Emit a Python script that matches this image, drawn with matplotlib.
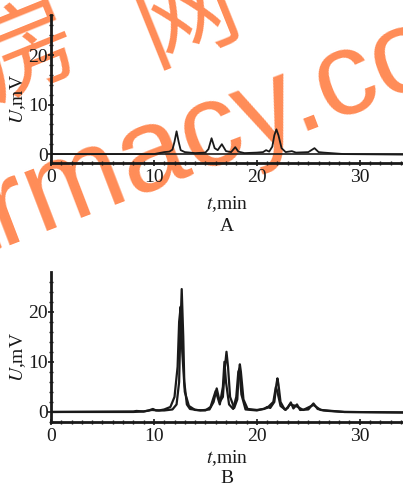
import matplotlib
matplotlib.use("Agg")
import matplotlib.pyplot as plt
from matplotlib.ticker import MultipleLocator, FixedLocator

plt.rcParams['font.family'] = ['Liberation Serif', 'DejaVu Serif']
plt.rcParams['mathtext.fontset'] = 'stix'

# chromatogram A: (t, U)
a_t = [0, 10.0, 10.5, 11.0, 11.5, 11.8, 12.0, 12.2, 12.4, 12.6, 13.0, 14.0, 15.0, 15.3,
       15.6, 15.9, 16.2, 16.6, 17.0, 17.5, 17.9, 18.2, 18.8, 20.0, 20.6, 20.9, 21.2,
       21.5, 21.7, 21.9, 22.1, 22.4, 22.8, 23.4, 23.8, 25.0, 25.6, 26.0, 26.5, 28.5, 34.2]
a_u = [0.0, 0.0, 0.2, 0.4, 0.5, 0.9, 2.5, 4.6, 2.5, 0.8, 0.4, 0.2, 0.3, 1.0,
       3.2, 1.2, 0.8, 2.0, 0.6, 0.4, 1.4, 0.5, 0.2, 0.3, 0.4, 0.8, 0.5,
       1.5, 3.8, 5.0, 3.8, 1.2, 0.4, 0.6, 0.3, 0.4, 1.2, 0.4, 0.3, 0.0, -0.1]

# chromatogram B, trace 1 (sharp)
b1_t = [0, 8.0, 8.3, 9.0, 9.5, 9.9, 10.2, 11.0, 11.8, 12.2, 12.45, 12.55, 12.7, 12.85,
        12.95, 13.2, 13.5, 14.5, 15.4, 15.8, 16.1, 16.4, 16.7, 16.9, 17.05, 17.2, 17.4,
        17.8, 18.1, 18.25, 18.35, 18.45, 18.7, 19.1, 20.0, 20.7, 21.0, 21.3, 21.7, 21.9,
        22.0, 22.1, 22.3, 22.7, 23.0, 23.3, 23.55, 23.9, 24.2, 25.0, 25.5, 25.9, 26.5,
        27.0, 28.5, 34.2]
b1_u = [0.0, 0.1, 0.2, 0.1, 0.3, 0.6, 0.3, 0.3, 0.5, 1.5, 6.0, 15.0, 24.5, 15.0,
        6.0, 1.5, 0.6, 0.3, 0.5, 2.0, 4.7, 2.0, 3.0, 9.0, 12.0, 9.0, 3.0,
        0.8, 2.5, 8.0, 9.5, 8.0, 2.5, 0.6, 0.4, 0.6, 1.0, 0.8, 2.0, 5.5,
        6.7, 5.5, 2.0, 0.5, 0.8, 1.9, 0.7, 1.5, 0.4, 0.5, 1.7, 0.6, 0.3,
        0.2, 0.0, -0.1]

# chromatogram B, trace 2 (broader)
b2_t = [0, 8.0, 9.0, 9.8, 10.5, 11.0, 11.6, 12.0, 12.3, 12.45, 12.6, 12.75, 13.0, 13.4,
        14.0, 15.0, 15.5, 16.0, 16.4, 16.7, 16.85, 17.0, 17.3, 17.7, 18.0, 18.2, 18.3,
        18.5, 18.9, 20.0, 21.0, 21.6, 21.85, 22.0, 22.3, 22.8, 23.2, 23.8, 24.5, 25.5,
        26.2, 28.5, 34.2]
b2_u = [0.0, 0.0, 0.1, 0.4, 0.3, 0.5, 1.0, 3.0, 9.0, 18.0, 21.0, 12.0, 4.0, 1.2,
        0.4, 0.3, 1.0, 4.2, 1.5, 5.0, 10.0, 6.0, 1.5, 0.6, 3.0, 8.0, 8.5,
        3.5, 0.5, 0.3, 0.8, 2.0, 5.0, 4.0, 1.2, 0.4, 1.5, 1.2, 0.4, 1.4,
        0.4, 0.0, -0.1]

x_major = [0, 10, 20, 30]
y_major = [0, 10, 20]
ink = '#1a1a1a'

fig = plt.figure(figsize=(4.03, 4.83), dpi=100)
ax_a = fig.add_axes([51 / 403, 1 - 163 / 483, 352 / 403, 148 / 483])
ax_b = fig.add_axes([51 / 403, 1 - 422 / 483, 352 / 403, 150 / 483])


def style(ax, ylim, panel, xl_y, pl_y):
    ax.set_xlim(0, 34.2)
    ax.set_ylim(*ylim)
    for s in ['top', 'right']:
        ax.spines[s].set_visible(False)
    for s in ['left', 'bottom']:
        ax.spines[s].set_linewidth(2)
        ax.spines[s].set_color(ink)
    ax.xaxis.set_major_locator(FixedLocator(x_major))
    ax.xaxis.set_minor_locator(MultipleLocator(1))
    ax.yaxis.set_major_locator(FixedLocator(y_major))
    ax.yaxis.set_minor_locator(MultipleLocator(2))
    ax.tick_params(axis='both', which='major', direction='inout', length=5, width=1.2,
                   labelsize=14, colors=ink)
    ax.tick_params(axis='both', which='minor', direction='inout', length=3, width=1.0,
                   colors=ink)
    ax.tick_params(axis='x', pad=2)
    ax.tick_params(axis='y', pad=0)
    ax.set_ylabel(r'$U$,mV', fontsize=14, color=ink)
    ax.yaxis.set_label_coords(-0.064, 0.43)
    ax.set_xlabel(r'$t$,min', fontsize=14, color=ink)
    ax.xaxis.set_label_coords(0.5, xl_y)
    ax.text(0.5, pl_y, panel, transform=ax.transAxes, ha='center', va='center',
            fontsize=14, color=ink)
    ax.patch.set_alpha(0)


ax_a.axhline(0, color=ink, lw=1.2)
ax_a.plot(a_t, a_u, color=ink, lw=1.3)
style(ax_a, (-1.8, 28.1), 'A', -0.21, -0.43)

ax_b.plot(b2_t, b2_u, color=ink, lw=1.6)
ax_b.plot(b1_t, b1_u, color=ink, lw=1.6)
style(ax_b, (-2.0, 27.9), 'B', -0.175, -0.38)

# orange watermark, drawn under the axes content
wm = '#ff8c57'
fig.text(-0.455, 0.345, 'pharmacy.com', rotation=21, rotation_mode='anchor',
         ha='left', va='baseline', fontsize=86, color=wm,
         family=['Liberation Sans', 'DejaVu Sans'], zorder=-1)
fig.text(28 / 403, 1 - 52 / 483, '房', rotation=22, rotation_mode='anchor',
         ha='center', va='center', fontsize=72, color=wm,
         family=['Noto Sans CJK SC', 'DejaVu Sans'], zorder=-1)
fig.text(188 / 403, 1 - 18 / 483, '网', rotation=22, rotation_mode='anchor',
         ha='center', va='center', fontsize=72, color=wm,
         family=['Noto Sans CJK SC', 'DejaVu Sans'], zorder=-1)

fig.savefig('out.png', dpi=100)
